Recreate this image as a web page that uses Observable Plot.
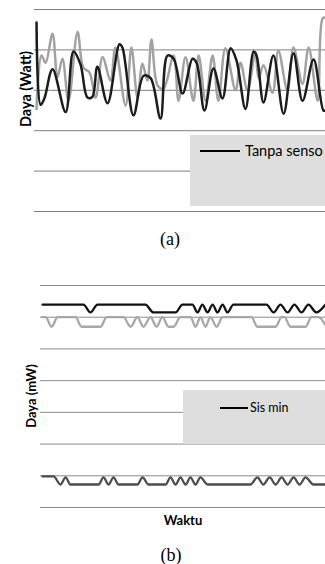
<!DOCTYPE html>
<html><head><meta charset="utf-8">
<script src="https://cdn.jsdelivr.net/npm/d3@7"></script>
<script src="https://cdn.jsdelivr.net/npm/@observablehq/plot@0.6"></script>
<style>
body{margin:0;background:#fff;}
#wrap{position:relative;width:325px;height:564px;overflow:hidden;font-family:Lato,"Open Sans",sans-serif;color:#000;}
.abs{position:absolute;white-space:nowrap;}
.ylab{font-weight:bold;transform:translate(-50%,-50%) rotate(-90deg);}
.cap{font-family:"Liberation Serif","DejaVu Serif",serif;font-size:18px;transform:translate(-50%,-50%);}
.box{background:#dedede;}
.lline{height:2px;background:#000;}
</style></head><body><div id="wrap"></div>
<script>
// ---- Chart (a): Daya (Watt) ----
const tA_black = [0.7,2.1,3.4,6.2,10.7,13.4,15.8,18.2,19.9,21.6,25.1,29.2,30.2,34.0,37.5,39.9,43.3,45.7,47.8,50.9,54.3,55.7,58.4,61.5,64.6,67.4,69.4,72.5,75.3,76.3,78.7,82.1,85.6,89.0,92.1,95.9,99.3,100];
const vA_black = [234,132,140,176,123,198,182,141,142,179,134,207,203,119,168,165,115,193,189,146,189,184,125,177,140,202,187,127,198,193,135,193,121,196,137,188,125,125];
const tA_gray = [0.7,2.4,3.8,6.2,7.9,9.6,11.7,14.8,16.8,18.9,21.0,23.4,26.1,27.8,31.3,33.3,35.4,37.1,38.8,40.2,42.3,44.3,47.8,49.5,51.9,54.6,56.4,58.8,61.2,63.2,65.6,69.1,70.8,73.2,75.9,77.0,78.7,81.8,83.8,86.9,89.0,92.1,94.2,97.3,99.0,100];
const vA_gray = [127,193,184,220,166,189,137,222,178,172,141,191,162,203,131,203,141,183,162,213,156,152,193,137,191,137,193,137,193,137,202,150,184,150,197,165,181,147,199,150,203,158,203,137,239,240];
const gridA = [0,50,100,150,200,250];

// ---- Chart (b): Daya (mW) ----
const tB_black = [0.7,15.1,17.5,20.0,36.8,39.6,47.4,49.8,53.3,55.1,56.8,58.6,60.4,62.1,63.9,65.6,67.7,79.3,81.8,84.2,86.7,89.1,91.6,94.0,96.8,100];
const vB_black = [64,64,61.5,64,64,61.5,61.5,64,64,61.5,64,61.5,64,61.5,64,61.5,64,64,61.5,64,61.5,64,61.5,64,61.5,64];
const tB_gray = [0.7,1.8,3.9,6.0,12.3,14.4,21.1,23.2,29.1,31.6,34.0,36.1,38.6,40.7,42.8,44.9,46.7,49.1,52.6,54.4,56.1,57.9,59.6,61.8,63.9,74.0,76.1,82.5,84.6,85.6,87.7,93.0,95.1,97.5,100];
const vB_gray = [60,60,57,60,60,57,57,60,60,57,60,57,60,57,60,57,57,60,60,57,60,57,60,57,60,60,57,57,60,60,57,57,60,60,57.5];
const tB_min = [0.7,4.6,7.0,8.8,10.5,20.4,22.1,23.9,25.6,27.4,34.0,35.8,37.9,43.9,45.6,47.4,49.1,50.9,52.6,54.4,56.1,58.6,73.7,76.1,78.2,80.4,82.5,84.6,86.7,88.8,90.9,93.0,95.8,100];
const vB_min = [9.8,9.8,7.25,9.5,7.25,7.25,9.5,7.25,9.5,7.25,7.25,9.5,7.25,7.25,9.5,7.25,9.5,7.25,9.5,7.25,9.5,7.25,7.25,9.5,7.25,9.5,7.25,9.5,7.25,9.5,7.25,9.5,7.25,7.25];
const gridB = [0,10,20,30,40,50,60,70];

const labels = {yA:"Daya (Watt)", legA:"Tanpa senso", capA:"(a)", yB:"Daya (mW)", xB:"Waktu", legB:"Sis min", capB:"(b)"};

const zip = (t, v) => t.map((d, i) => ({t: d, v: v[i]}));
const wrap = document.getElementById("wrap");

function place(node, left, top) {
  node.style.position = "absolute";
  node.style.left = left + "px";
  node.style.top = top + "px";
  wrap.appendChild(node);
}
function div(cls, css, text) {
  const d = document.createElement("div");
  d.className = "abs " + cls;
  Object.assign(d.style, css);
  if (text) d.textContent = text;
  wrap.appendChild(d);
  return d;
}

const chartA = Plot.plot({
  width: 325, height: 222,
  marginTop: 9, marginBottom: 11, marginLeft: 34, marginRight: 0,
  x: {domain: [0, 100], axis: null},
  y: {domain: [0, 250], axis: null},
  marks: [
    Plot.ruleY(gridA, {stroke: "#7f7f7f", strokeWidth: 1}),
    Plot.line(zip(tA_gray, vA_gray), {x: "t", y: "v", stroke: "#a2a2a2", strokeWidth: 2.5, curve: "catmull-rom"}),
    Plot.line(zip(tA_black, vA_black), {x: "t", y: "v", stroke: "#1c1c1c", strokeWidth: 2.5, curve: "catmull-rom"})
  ]
});
place(chartA, 0, 0);

const chartB = Plot.plot({
  width: 325, height: 230,
  marginTop: 5, marginBottom: 3, marginLeft: 40, marginRight: 0,
  x: {domain: [0, 100], axis: null},
  y: {domain: [0, 70], axis: null},
  marks: [
    Plot.ruleY(gridB, {stroke: "#8c8c8c", strokeWidth: 1}),
    Plot.line(zip(tB_gray, vB_gray), {x: "t", y: "v", stroke: "#a8a8a8", strokeWidth: 2.3, curve: "monotone-x"}),
    Plot.line(zip(tB_black, vB_black), {x: "t", y: "v", stroke: "#111", strokeWidth: 2.3, curve: "monotone-x"}),
    Plot.line(zip(tB_min, vB_min), {x: "t", y: "v", stroke: "#4d4d4d", strokeWidth: 2.3, curve: "monotone-x"})
  ]
});
place(chartB, 0, 280);

// Labels, legends, captions
div("ylab", {left: "25px", top: "89px", fontSize: "14.5px"}, labels.yA);
div("box", {left: "190px", top: "135px", width: "140px", height: "71px"});
div("lline", {left: "200px", top: "150px", width: "40px"});
div("", {left: "245px", top: "142px", fontSize: "14.5px", lineHeight: "17px"}, labels.legA);
div("cap", {left: "170px", top: "239px"}, labels.capA);

div("ylab", {left: "31px", top: "396px", fontSize: "13px"}, labels.yB);
div("box", {left: "183px", top: "390px", width: "150px", height: "54px"});
div("lline", {left: "220px", top: "407px", width: "28px"});
div("", {left: "250px", top: "400px", fontSize: "12.5px", lineHeight: "16px"}, labels.legB);
div("", {left: "183px", top: "520px", fontSize: "13px", fontWeight: "bold", transform: "translate(-50%,-50%)"}, labels.xB);
div("cap", {left: "171px", top: "555px"}, labels.capB);
</script>
</body></html>
